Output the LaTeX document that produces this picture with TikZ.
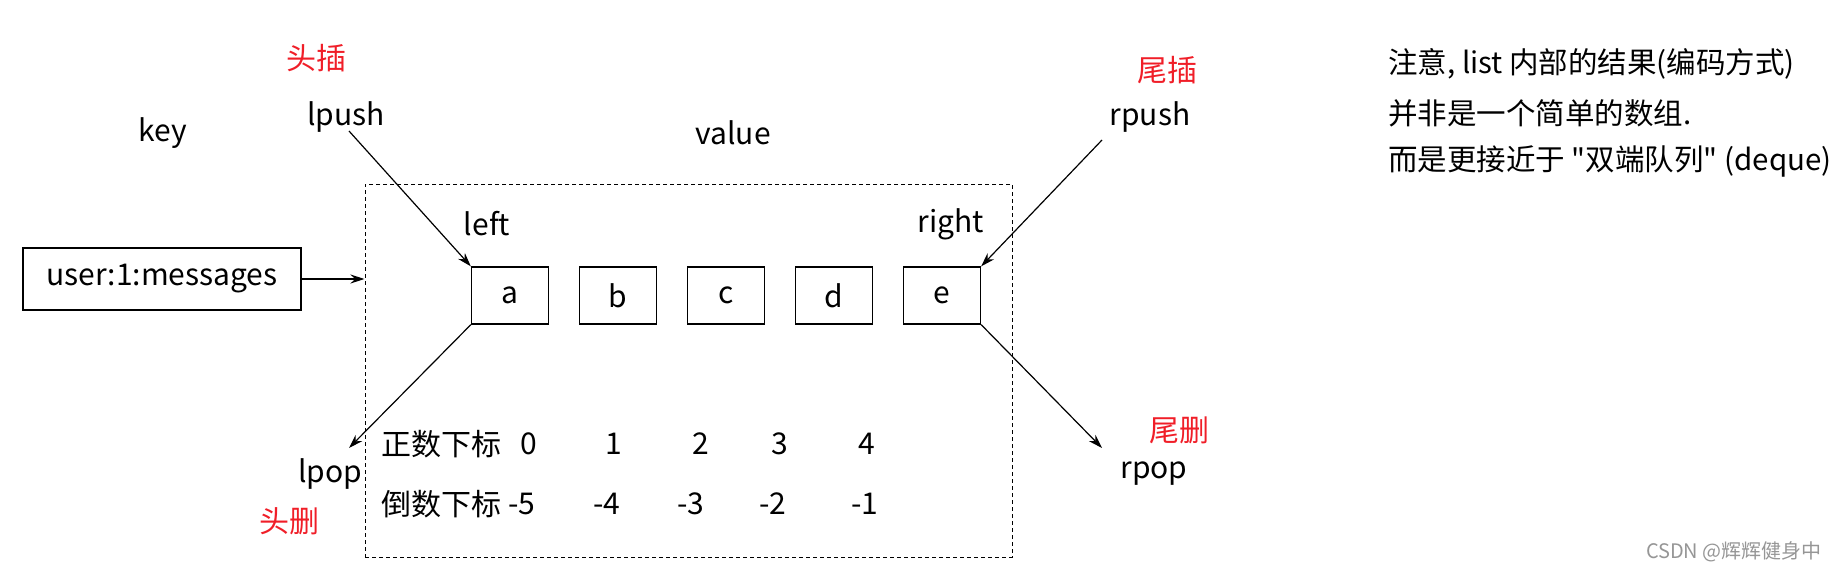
\documentclass[tikz,border=0pt]{standalone}
\usepackage{fontspec}
\setmainfont{Noto Sans CJK SC}
\newfontfamily\qfont{Noto Sans CJK SC}
\usetikzlibrary{arrows.meta}
\definecolor{tred}{RGB}{240,30,40}
\definecolor{wm}{RGB}{150,150,150}
\newcommand{\sq}{{\qfont\symbol{34}}}
\begin{document}
\begin{tikzpicture}[x=1pt,y=-1pt,
  every node/.style={font=\fontsize{30}{34}\selectfont, inner sep=0pt},
  elbox/.style={draw, line width=1.3pt, minimum width=77pt, minimum height=57pt},
  keybox/.style={draw, line width=1.3pt, minimum width=278pt, minimum height=62pt},
  arr/.style={line width=1.2pt, -{Stealth[length=14pt,width=9pt]}},
  redlbl/.style={text=tred},
  notes/.style={anchor=west, font=\fontsize{29.5}{34}\selectfont},
]
\useasboundingbox (0,0) rectangle (1834,573);
% labels
\node (keylbl) at (163,133) {key};
\node (vallbl) at (733,133) {value};
\node[redlbl] (htop) at (316,58) {头插};
\node (lpush) at (346,117) {lpush};
\node[redlbl] (ttop) at (1167,70) {尾插};
\node (rpush) at (1150,117) {rpush};
% key box
\node[keybox] (key) at (162,279) {user:1:messages};
% dashed value box
\node[draw, dashed, line width=1pt, dash pattern=on 4pt off 3pt, minimum width=647pt, minimum height=373pt] (val) at (688.5,370.5) {};
\draw[arr] (key.east) -- (key.east -| val.west);
% left/right
\node (left) at (487,224) {left};
\node (right) at (951,224) {right};
% elements
\node[elbox] (a) at (510,295.5) {a};
\node[elbox] (b) at (618,295.5) {b};
\node[elbox] (c) at (726,295.5) {c};
\node[elbox] (d) at (834,295.5) {d};
\node[elbox] (e) at (942,295.5) {e};
% arrows
\coordinate (lpushS) at (349,131);
\coordinate (rpushS) at (1102,140);
\coordinate (lpopE) at (349,448);
\coordinate (rpopE) at (1102,448);
\draw[arr] (lpushS) -- (a.north west);
\draw[arr] (rpushS) -- (e.north east);
\draw[arr] (a.south west) -- (lpopE);
\draw[arr] (e.south east) -- (rpopE);
\node (lpop) at (330,474) {lpop};
\node[redlbl] (hdel) at (289,521) {头删};
\node (rpop) at (1154,474) {rpop};
\node[redlbl] (tdel) at (1179,430) {尾删};
% index rows
\node (pos) at (441,444) {正数下标};
\node (p0) at (529,444) {0};
\node (p1) at (614,444) {1};
\node (p2) at (701,444) {2};
\node (p3) at (780,444) {3};
\node (p4) at (867,444) {4};
\node (neg) at (441,504) {倒数下标};
\node (n0) at (522,504) {-5};
\node (n1) at (607,504) {-4};
\node (n2) at (691,504) {-3};
\node (n3) at (773,504) {-2};
\node (n4) at (865,504) {-1};
% notes
\node[notes] (note1) at (1388,64) {注意, list 内部的结果(编码方式)};
\node[notes] (note2) at (1388,113) {并非是一个简单的数组.};
\node[notes] (note3) at (1388,161) {而是更接近于 \sq 双端队列\sq{} (deque)};
% watermark
\node[anchor=east, text=wm, font=\fontsize{20}{24}\selectfont] (wmk) at (1822,552) {CSDN @辉辉健身中};
\end{tikzpicture}
\end{document}
